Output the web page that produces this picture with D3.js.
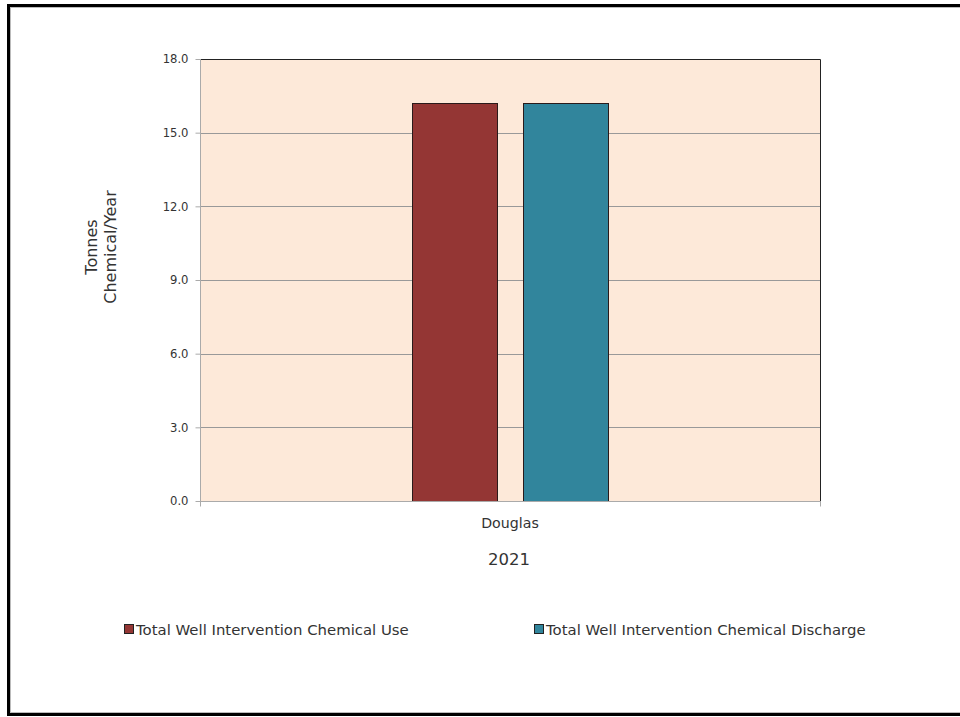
<!DOCTYPE html>
<html>
<head>
<meta charset="utf-8">
<script src="https://cdn.jsdelivr.net/npm/d3@7"></script>
<style>
  html, body { margin: 0; padding: 0; background: #fff; }
  svg { display: block; }
  text { font-family: Verdana, "DejaVu Sans", sans-serif; fill: #333; }
</style>
</head>
<body>
<svg id="chart" width="960" height="717"></svg>
<script>
// Chart data
const categories = ["Douglas"];
const seriesNames = ["Total Well Intervention Chemical Use", "Total Well Intervention Chemical Discharge"];
const seriesColors = ["#943634", "#31859C"];
const useValues = [16.2];
const dischargeValues = [16.2];
const yTicks = [0, 3, 6, 9, 12, 15, 18];
const yearLabel = "2021";

const svg = d3.select("#chart");

// Outer frame
svg.append("rect")
  .attr("x", 8.5).attr("y", 5.5).attr("width", 960).attr("height", 709)
  .attr("fill", "#fff").attr("stroke", "#000").attr("stroke-width", 3);
svg.append("rect")
  .attr("x", 10.5).attr("y", 7.5).attr("width", 960).attr("height", 705)
  .attr("fill", "none").attr("stroke", "#bbb").attr("stroke-width", 1);

const plot = { left: 200, right: 820, top: 59, bottom: 501 };

const x = d3.scaleBand().domain(categories).range([plot.left, plot.right]);
const xInner = d3.scaleBand().domain(seriesNames).range([0, x.bandwidth()]).paddingInner(0.234).paddingOuter(1.91);
const y = d3.scaleLinear().domain([0, 18]).range([plot.bottom, plot.top]);

// Plot background
svg.append("rect")
  .attr("x", plot.left).attr("y", plot.top)
  .attr("width", plot.right - plot.left).attr("height", plot.bottom - plot.top)
  .attr("fill", "#FDE9D9");

// Gridlines
svg.append("g").selectAll("line")
  .data(yTicks.filter(d => d > 0 && d < 18))
  .join("line")
  .attr("x1", plot.left).attr("x2", plot.right)
  .attr("y1", d => Math.round(y(d)) + 0.5).attr("y2", d => Math.round(y(d)) + 0.5)
  .attr("stroke", "#999").attr("stroke-width", 1);

// Plot border top/right
svg.append("path")
  .attr("d", `M${plot.left},${plot.top + 0.5}H${plot.right + 0.5}V${plot.bottom}`)
  .attr("fill", "none").attr("stroke", "#222").attr("stroke-width", 1);

// Bars
const series = [useValues, dischargeValues];
const barG = svg.append("g");
categories.forEach((c, i) => {
  seriesNames.forEach((s, j) => {
    const v = series[j][i];
    barG.append("rect")
      .attr("x", Math.round(x(c) + xInner(s)) + 0.5)
      .attr("y", Math.round(y(v)) + 0.5)
      .attr("width", Math.round(xInner.bandwidth()))
      .attr("height", Math.round(y(0) - y(v)))
      .attr("fill", seriesColors[j])
      .attr("stroke", "#2a1a1a").attr("stroke-width", 1);
  });
});

// Y axis
const yAxis = d3.axisLeft(y).tickValues(yTicks).tickFormat(d3.format(".1f")).tickSize(5).tickPadding(7);
const yg = svg.append("g").attr("transform", `translate(${plot.left + 0.5},0)`).call(yAxis);
yg.select(".domain").attr("stroke", "#aaa").attr("d", `M0,${plot.top}V${plot.bottom}`);
yg.selectAll(".tick line").attr("stroke", "#aaa");
yg.selectAll(".tick text").attr("font-size", 11.6).attr("fill", "#333")
  .attr("font-family", "Verdana, 'DejaVu Sans', sans-serif");

// X axis
const xg = svg.append("g").attr("transform", `translate(0,${plot.bottom + 0.5})`);
xg.append("line").attr("x1", plot.left).attr("x2", plot.right + 1).attr("stroke", "#aaa");
[plot.left, plot.right].forEach(px => {
  xg.append("line").attr("x1", px + 0.5).attr("x2", px + 0.5).attr("y1", 0).attr("y2", 5).attr("stroke", "#aaa");
});
xg.selectAll("text.cat").data(categories).join("text")
  .attr("class", "cat")
  .attr("x", d => x(d) + x.bandwidth() / 2).attr("y", 26)
  .attr("text-anchor", "middle").attr("font-size", 14.2).text(d => d);

// Year label
svg.append("text").attr("x", 509).attr("y", 565).attr("text-anchor", "middle")
  .attr("font-size", 16.5).attr("fill", "#111").text(yearLabel);

// Y axis title
const yt = svg.append("text").attr("transform", "translate(97,247) rotate(-90)")
  .attr("text-anchor", "middle").attr("font-size", 16).attr("fill", "#111");
yt.append("tspan").attr("x", 0).attr("dy", 0).text("Tonnes");
yt.append("tspan").attr("x", 0).attr("dy", 19).text("Chemical/Year");

// Legend
const legendX = [124, 534];
seriesNames.forEach((s, j) => {
  const g = svg.append("g").attr("transform", `translate(${legendX[j]},629)`);
  g.append("rect").attr("x", 0.5).attr("y", -4.5).attr("width", 9).attr("height", 9)
    .attr("fill", seriesColors[j]).attr("stroke", "#222");
  g.append("text").attr("x", 12).attr("y", 5.5).attr("font-size", 14.9).attr("fill", "#333").text(s);
});
</script>
</body>
</html>
